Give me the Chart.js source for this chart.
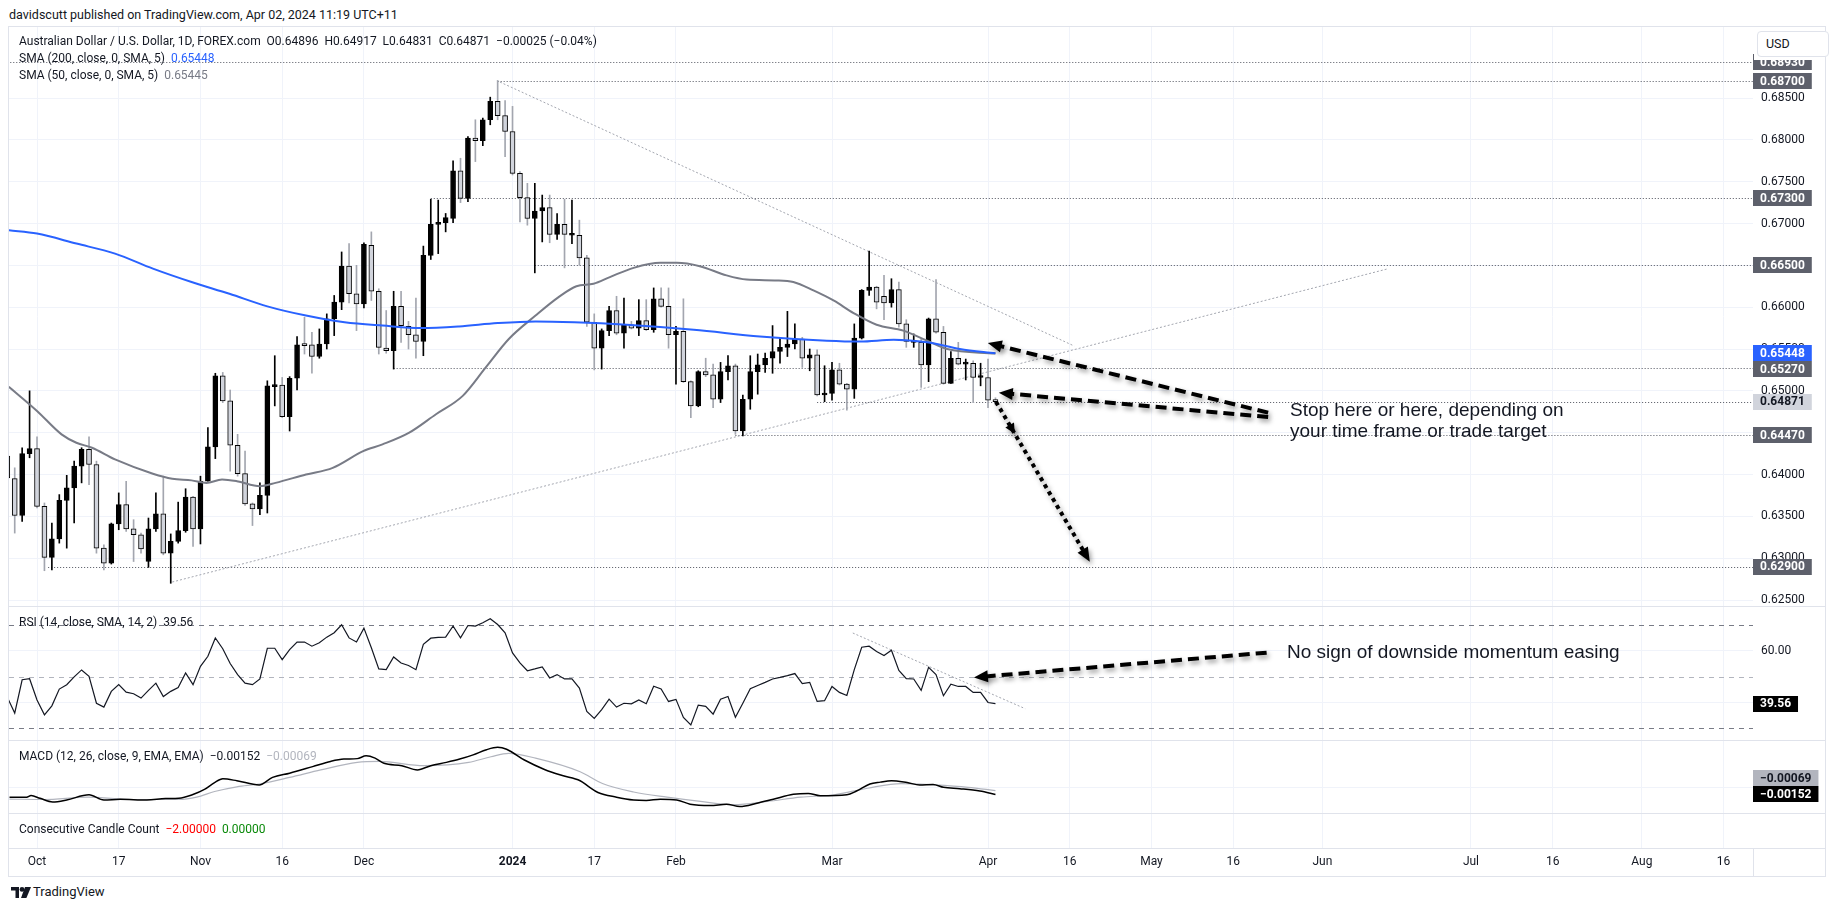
<!DOCTYPE html>
<html>
<head>
<meta charset="utf-8">
<title>AUD/USD daily</title>
<script src="https://cdn.jsdelivr.net/npm/chart.js@4.4.1/dist/chart.umd.min.js"></script>
<style>
body { margin: 0; background: #fff; width: 1835px; height: 911px; position: relative; overflow: hidden; font-family: Roboto, sans-serif; color: #131722; }
.pane { position: absolute; left: 9px; }
.pane canvas { display: block; }
.txt { position: absolute; white-space: pre; font-size: 12px; line-height: 16px; }
.sep { position: absolute; left: 9px; width: 1816px; height: 1px; background: #e0e3eb; }
.note { position: absolute; white-space: pre; font-family: "Liberation Sans", Arial, sans-serif; font-size: 19px; line-height: 21px; color: #131722; }
</style>
</head>
<body>

<div class="txt" style="left:9px; top:7px; font-size:12.5px;">davidscutt published on TradingView.com, Apr 02, 2024 11:19 UTC+11</div>
<div style="position:absolute; left:8px; top:26px; width:1816px; height:849px; border:1px solid #e0e3eb;"></div>

<div class="pane" style="top:27px;"><canvas id="pricePane" width="1816" height="579"></canvas></div>
<div class="pane" style="top:607px;"><canvas id="rsiPane" width="1816" height="133"></canvas></div>
<div class="pane" style="top:741px;"><canvas id="macdPane" width="1816" height="72"></canvas></div>
<div class="pane" style="top:814px;"><canvas id="countPane" width="1816" height="62"></canvas></div>

<div class="sep" style="top:606px;"></div>
<div class="sep" style="top:740px;"></div>
<div class="sep" style="top:813px;"></div>
<div class="sep" style="top:848px;"></div>
<div style="position:absolute; left:1753px; top:848px; width:1px; height:28px; background:#e0e3eb;"></div>

<div style="position:absolute; left:1754px; top:27px; width:71px; height:33px; background:#fff;"></div>
<div style="position:absolute; left:1757px; top:31px; width:62px; height:24px; border:1px solid #e0e3eb; border-radius:4px; background:#fff; font-size:12.5px; line-height:24px; padding-left:8px; box-sizing:content-box;">USD</div>

<div class="txt" style="left:19px; top:33px;">Australian Dollar / U.S. Dollar, 1D, FOREX.com  O0.64896  H0.64917  L0.64831  C0.64871  −0.00025 (−0.04%)</div>
<div class="txt" style="left:19px; top:50px;">SMA (200, close, 0, SMA, 5)  <span style="color:#2962ff">0.65448</span></div>
<div class="txt" style="left:19px; top:67px;">SMA (50, close, 0, SMA, 5)  <span style="color:#787b86">0.65445</span></div>
<div class="txt" style="left:19px; top:614px;">RSI (14, close, SMA, 14, 2)  39.56</div>
<div class="txt" style="left:19px; top:748px;">MACD (12, 26, close, 9, EMA, EMA)  −0.00152  <span style="color:#b2b5be">−0.00069</span></div>
<div class="txt" style="left:19px; top:821px;">Consecutive Candle Count  <span style="color:#f00">−2.00000</span>  <span style="color:#0a8a0a">0.00000</span></div>

<div class="note" style="left:1290px; top:399px;">Stop here or here, depending on
your time frame or trade target</div>
<div class="note" style="left:1287px; top:641px;">No sign of downside momentum easing</div>

<svg style="position:absolute; left:11px; top:887px;" width="20" height="11" viewBox="0 0 20 11">
  <path d="M0 0h8v11H4.5V3.5H0z" fill="#131722"/>
  <circle cx="11" cy="2.4" r="2.4" fill="#131722"/>
  <path d="M14 0h6l-4.6 11H10z" fill="#131722"/>
</svg>
<div class="txt" style="left:33px; top:884px; font-size:13px;">TradingView</div>

<script>
// bar index 0 = Oct 2 2023, trading days only (Dec 25 / Jan 1 skipped)
var firstIdx = -4;
var opens = [0.6422, 0.6395, 0.6351, 0.6425, 0.6431, 0.6362, 0.6301, 0.6323, 0.6369, 0.6384, 0.6410, 0.6430, 0.6412, 0.6312,
    0.6294, 0.6341, 0.6364, 0.6335, 0.6328, 0.6296, 0.6335, 0.6353, 0.6306, 0.6320, 0.6333, 0.6373, 0.6335, 0.6392,
    0.6433, 0.6518, 0.6488, 0.6435, 0.6401, 0.6365, 0.6359, 0.6375, 0.6505, 0.6507, 0.6469, 0.6515, 0.6555, 0.6555,
    0.6541, 0.6556, 0.6586, 0.6606, 0.6649, 0.6616, 0.6604, 0.6674, 0.6619, 0.6551, 0.6548, 0.6601, 0.6577, 0.6567,
    0.6559, 0.6662, 0.6699, 0.6701, 0.6706, 0.6763, 0.6730, 0.6802, 0.6799, 0.6824, 0.6846, 0.6829, 0.6810, 0.6760,
    0.6731, 0.6706, 0.6715, 0.6719, 0.6687, 0.6699, 0.6686, 0.6686, 0.6659, 0.6582, 0.6551, 0.6572, 0.6596, 0.6569,
    0.6579, 0.6575, 0.6584, 0.6573, 0.6610, 0.6601, 0.6567, 0.6571, 0.6511, 0.6482, 0.6523, 0.6519, 0.6490, 0.6523,
    0.6530, 0.6452, 0.6490, 0.6523, 0.6531, 0.6539, 0.6547, 0.6552, 0.6556, 0.6562, 0.6539, 0.6543, 0.6495, 0.6497,
    0.6525, 0.6508, 0.6502, 0.6563, 0.6620, 0.6624, 0.6613, 0.6605, 0.6621, 0.6580, 0.6558, 0.6558, 0.6531, 0.6586,
    0.6570, 0.6509, 0.6539, 0.6532, 0.6533, 0.6516, 0.6516, 0.64896];
var highs = [0.6430, 0.6408, 0.6432, 0.6500, 0.6445, 0.6366, 0.6342, 0.6376, 0.6399, 0.6416, 0.6432, 0.6445, 0.6416, 0.6316,
    0.6342, 0.6378, 0.6392, 0.6346, 0.6330, 0.6348, 0.6378, 0.6398, 0.6329, 0.6367, 0.6383, 0.6374, 0.6398, 0.6456,
    0.6521, 0.6522, 0.6501, 0.6448, 0.6428, 0.6366, 0.6390, 0.6512, 0.6542, 0.6516, 0.6517, 0.6565, 0.6588, 0.6570,
    0.6574, 0.6592, 0.6614, 0.6666, 0.6676, 0.6650, 0.6677, 0.6690, 0.6622, 0.6596, 0.6619, 0.6619, 0.6583, 0.6611,
    0.6673, 0.6729, 0.6728, 0.6712, 0.6775, 0.6778, 0.6804, 0.6824, 0.6826, 0.6851, 0.6871, 0.6847, 0.6840, 0.6762,
    0.6748, 0.6748, 0.6734, 0.6734, 0.6712, 0.6729, 0.6728, 0.6704, 0.6662, 0.6592, 0.6574, 0.6601, 0.6613, 0.6611,
    0.6583, 0.6609, 0.6609, 0.6623, 0.6623, 0.6623, 0.6577, 0.6610, 0.6512, 0.6524, 0.6539, 0.6532, 0.6534, 0.6542,
    0.6532, 0.6495, 0.6542, 0.6544, 0.6545, 0.6578, 0.6564, 0.6595, 0.6580, 0.6564, 0.6550, 0.6549, 0.6530, 0.6534,
    0.6533, 0.6509, 0.6580, 0.6621, 0.6667, 0.6625, 0.6638, 0.6634, 0.6630, 0.6585, 0.6568, 0.6562, 0.6587, 0.6633,
    0.6577, 0.6547, 0.6558, 0.6538, 0.6536, 0.6533, 0.6538, 0.64917];
var lows = [0.6390, 0.6330, 0.6344, 0.6420, 0.6360, 0.6285, 0.6286, 0.6318, 0.6312, 0.6342, 0.6390, 0.6388, 0.6306, 0.6286,
    0.6293, 0.6334, 0.6332, 0.6296, 0.6306, 0.6289, 0.6332, 0.6304, 0.6270, 0.6318, 0.6331, 0.6314, 0.6317, 0.6392,
    0.6419, 0.6486, 0.6404, 0.6398, 0.6363, 0.6339, 0.6352, 0.6354, 0.6482, 0.6468, 0.6452, 0.6501, 0.6544, 0.6521,
    0.6539, 0.6550, 0.6566, 0.6597, 0.6605, 0.6572, 0.6599, 0.6608, 0.6544, 0.6545, 0.6526, 0.6558, 0.6550, 0.6539,
    0.6542, 0.6657, 0.6664, 0.6690, 0.6701, 0.6725, 0.6726, 0.6774, 0.6793, 0.6818, 0.6824, 0.6780, 0.6758, 0.6702,
    0.6698, 0.6641, 0.6678, 0.6677, 0.6681, 0.6647, 0.6676, 0.6650, 0.6577, 0.6525, 0.6526, 0.6566, 0.6567, 0.6551,
    0.6574, 0.6566, 0.6572, 0.6570, 0.6600, 0.6551, 0.6508, 0.6510, 0.6468, 0.6481, 0.6517, 0.6480, 0.6486, 0.6513,
    0.6448, 0.6446, 0.6478, 0.6496, 0.6522, 0.6521, 0.6533, 0.6541, 0.6550, 0.6528, 0.6524, 0.6494, 0.6487, 0.6489,
    0.6507, 0.6477, 0.6491, 0.6562, 0.6614, 0.6598, 0.6585, 0.6600, 0.6576, 0.6552, 0.6552, 0.6504, 0.6511, 0.6569,
    0.6508, 0.6509, 0.6531, 0.6513, 0.6486, 0.6506, 0.6480, 0.64831];
var closes = [0.6396, 0.6351, 0.6425, 0.6431, 0.6362, 0.6301, 0.6323, 0.6369, 0.6384, 0.6410, 0.6430, 0.6412, 0.6312, 0.6294,
    0.6341, 0.6364, 0.6335, 0.6328, 0.6311, 0.6335, 0.6353, 0.6306, 0.6320, 0.6333, 0.6373, 0.6335, 0.6392, 0.6433,
    0.6518, 0.6488, 0.6435, 0.6401, 0.6365, 0.6359, 0.6375, 0.6506, 0.6507, 0.6469, 0.6515, 0.6555, 0.6554, 0.6541,
    0.6556, 0.6586, 0.6606, 0.6649, 0.6616, 0.6604, 0.6675, 0.6619, 0.6552, 0.6548, 0.6601, 0.6578, 0.6567, 0.6559,
    0.6662, 0.6699, 0.6701, 0.6707, 0.6763, 0.6730, 0.6802, 0.6799, 0.6824, 0.6846, 0.6829, 0.6810, 0.6760, 0.6731,
    0.6706, 0.6715, 0.6719, 0.6687, 0.6699, 0.6687, 0.6688, 0.6659, 0.6582, 0.6551, 0.6572, 0.6596, 0.6569, 0.6579,
    0.6575, 0.6584, 0.6573, 0.6610, 0.6601, 0.6567, 0.6571, 0.6511, 0.6482, 0.6523, 0.6519, 0.6490, 0.6523, 0.6530,
    0.6452, 0.6490, 0.6523, 0.6531, 0.6539, 0.6547, 0.6552, 0.6556, 0.6562, 0.6539, 0.6543, 0.6495, 0.6497, 0.6525,
    0.6508, 0.6502, 0.6563, 0.6620, 0.6624, 0.6606, 0.6605, 0.6621, 0.6580, 0.6559, 0.6560, 0.6531, 0.6586, 0.6570,
    0.6509, 0.6539, 0.6532, 0.6533, 0.6516, 0.6517, 0.6489, 0.64871];

// moving averages at these bar positions
var sma200Idx = [-3.8, 0, 5.3, 10.5, 15.6, 20.8, 25.9, 31, 36.2, 41.4, 46.5, 51.7, 56.8, 62, 67.1, 72.3, 79.4, 88.4, 97.3, 106.3, 110.8, 115.3, 119.8, 124.2, 129];
var sma200Val = [0.6692, 0.6688, 0.6676, 0.6664, 0.6646, 0.6630, 0.6616, 0.6601, 0.6590, 0.6582, 0.6578, 0.6575, 0.6577, 0.6581, 0.6583, 0.6582, 0.6579, 0.6573, 0.6565, 0.6560, 0.6559, 0.6561, 0.6558, 0.6550, 0.65448];
var sma50Idx = [-3.8, 0, 3.3, 5.3, 7.4, 10.5, 15.6, 18.2, 20.8, 22.8, 24.9, 26.9, 30, 32.1, 36.2, 39.8, 43.9, 46.5, 50.1, 53.7, 57.3, 60.4, 63.5, 67.1, 70.2, 72.6, 74.9, 77.1, 80.3, 83.9, 86.1, 89.2, 92.8, 95.5, 99.6, 101.8, 104.5, 107.2, 109.9, 113, 116.6, 119.8, 122.5, 129];
var sma50Val = [0.6505, 0.6476, 0.6448, 0.6438, 0.6432, 0.6418, 0.6401, 0.6395, 0.6393, 0.6390, 0.6394, 0.6392, 0.6386, 0.6390, 0.6400, 0.6408, 0.6428, 0.6436, 0.6450, 0.6472, 0.6494, 0.6528, 0.6562, 0.6590, 0.6612, 0.6625, 0.6628, 0.6636, 0.6647, 0.6653, 0.6653, 0.6649, 0.6638, 0.6633, 0.6632, 0.6630, 0.6620, 0.6608, 0.6593, 0.6579, 0.6572, 0.6560, 0.6550, 0.65445];

// RSI per bar from firstIdx
var rsiVal = [42, 35.9, 48.8, 49.2, 41.0, 35.2, 38.7, 45.2, 46.9, 49.9, 52.6, 50.1, 39.7, 38.2, 44.3, 46.9, 44.0, 43.4, 41.7,
    44.7, 47.5, 42.3, 44.3, 45.8, 51.4, 46.9, 54.0, 57.9, 65.0, 60.8, 55.1, 50.8, 47.5, 46.9, 49.1, 61.0, 61.0, 56.6, 60.5,
    63.4, 63.4, 61.8, 63.1, 65.3, 67.0, 70.1, 65.0, 63.4, 68.8, 61.2, 53.0, 52.7, 57.6, 55.3, 54.3, 52.7, 62.5, 64.9, 65.2,
    65.3, 69.6, 65.0, 69.8, 69.6, 70.9, 72.4, 70.2, 67.0, 59.2, 55.3, 52.3, 53.0, 53.8, 49.5, 50.8, 49.1, 49.1, 45.6, 36.5,
    33.8, 37.2, 41.3, 38.2, 39.7, 39.5, 41.0, 39.5, 46.3, 45.2, 40.4, 41.2, 34.2, 31.3, 39.0, 38.5, 35.5, 41.3, 42.3, 34.3,
    39.7, 45.3, 46.6, 47.8, 49.1, 49.7, 50.4, 51.2, 47.3, 47.8, 40.4, 40.7, 46.2, 43.9, 42.7, 52.7, 61.4, 61.8, 59.7, 58.2,
    60.2, 52.4, 49.2, 49.1, 44.7, 53.6, 50.8, 42.6, 47.1, 46.2, 46.2, 43.9, 43.9, 40.0, 39.56];

var macdIdx = [-3.7, -1.4, -0.8, 0.4, 2.1, 4, 7, 9, 11.2, 14.8, 17.3, 19.1, 20.9, 22.6, 23.9, 25, 26.9, 29.9, 31.7, 34, 37.1, 39.5, 41.3, 43.1, 44.3, 45.5, 46.7, 49.1, 51.2, 53, 55.1, 56.9, 58.7, 60.5, 62, 63.2, 65.6, 68.3, 70.7, 73.1, 74.3, 75.5, 78, 80.3, 82, 83.9, 86.1, 87.9, 90.6, 92.8, 94.6, 96.9, 99.1, 101.8, 103.8, 105.4, 109, 110.3, 112.1, 113.5, 115, 117.1, 118.8, 120.6, 122, 124.2, 126.9, 129];
var macdVal = [-0.00213, -0.00213, -0.00177, -0.00234, -0.00312, -0.0027, -0.0016, -0.0027, -0.00255, -0.0027, -0.0024, -0.00234, -0.0016, -0.0004, 0.001, 0.0018, 0.0014, 0.0005, 0.0021, 0.003, 0.0044, 0.0055, 0.006, 0.0061, 0.0067, 0.0062, 0.0051, 0.0046, 0.0037, 0.0046, 0.0053, 0.006, 0.0069, 0.008, 0.0085, 0.0081, 0.0058, 0.0038, 0.0025, 0.0014, 0.0001, -0.0011, -0.0021, -0.0027, -0.0028, -0.00255, -0.0027, -0.0036, -0.0039, -0.0036, -0.0041, -0.0034, -0.00255, -0.0015, -0.0013, -0.0018, -0.0016, -0.0008, 0.0007, 0.0011, 0.0014, 0.001, 0.0005, 0.0006, 0.0000, -0.0003, -0.0008, -0.00152];
var signalIdx = [-3.7, 0.9, 6.9, 13, 19.1, 21.5, 23.9, 26.9, 29.9, 34, 38.2, 43.1, 46.1, 52.1, 58.1, 61.1, 63.5, 67.1, 73.1, 76.1, 80.3, 84.8, 89.3, 93.8, 98.3, 102.8, 107.3, 111.8, 116.3, 120.8, 125.3, 129];
var signalVal = [-0.0025, -0.0026, -0.0021, -0.0026, -0.0026, -0.0021, -0.0009, 0.0001, 0.0007, 0.0021, 0.0037, 0.0053, 0.0055, 0.0046, 0.0053, 0.0065, 0.0072, 0.0062, 0.0033, 0.0008, -0.001, -0.0021, -0.003, -0.0037, -0.003, -0.0021, -0.0016, -0.0002, 0.0008, 0.0005, 0.0000, -0.00069];

// axis ticks
var tickIdx = [0, 11, 22, 33, 44, 64, 75, 86, 107, 128, 139, 150, 161, 173, 193, 204, 216, 227];
var tickLabels = ['Oct', '17', 'Nov', '16', 'Dec', '2024', '17', 'Feb', 'Mar', 'Apr', '16', 'May', '16', 'Jun', 'Jul', '16', 'Aug', '16'];
var priceTicks = [0.625, 0.63, 0.635, 0.64, 0.645, 0.65, 0.655, 0.66, 0.665, 0.67, 0.675, 0.68, 0.685];
var rsiTicks = [40, 60];
var macdTicks = [0];

// drawings on the price pane
var levelVals = [0.6893, 0.687, 0.673, 0.665, 0.6527, 0.6487, 0.6447, 0.629];
var levelFrom = [-4, 62, 53, 67, 48, 105, 94, 1.5];
var trendFrom = [[62.3, 0.68691], [18.2, 0.62715]];
var trendTo = [[139.6, 0.65536], [181.7, 0.66456]];
var arrowFrom = [[165.7, 0.64739], [165.7, 0.64687], [129.07, 0.6487]];
var arrowTo = [[127.97, 0.65572], [129.45, 0.64978], [141.7, 0.62958]];
var rsiLevels = [70, 50, 30];
var rsiTrend = [[109.8, 66.9], [133, 37.6]];
var rsiArrow = [[165.5, 59.3], [126.1, 49.7]];

// labels on the right scale
var priceBoxVals = [0.65448, 0.6893, 0.687, 0.673, 0.665, 0.6527, 0.64871, 0.6447, 0.629];
var priceBoxBg = ['#2962ff', '#5d606b', '#5d606b', '#5d606b', '#5d606b', '#5d606b', '#d1d4dc', '#5d606b', '#5d606b'];
var priceBoxFg = ['#fff', '#fff', '#fff', '#fff', '#fff', '#fff', '#131722', '#fff', '#fff'];

var X_MIN = -3.77, X_MAX = 230.96;
var GRID = '#f0f3fa';

Chart.defaults.animation = false;
Chart.defaults.font.family = 'Roboto, sans-serif';
Chart.defaults.font.size = 12;
Chart.defaults.color = '#131722';
Chart.defaults.plugins.legend.display = false;
Chart.defaults.plugins.tooltip.enabled = false;

function pts(xs, ys) {
    return xs.map(function (x, k) { return {x: x, y: ys[k]}; });
}

// no label overflow padding: the panes must fill their canvases exactly
function noScalePad(s) {
    s.paddingTop = 0;
    s.paddingBottom = 0;
    s.paddingLeft = 0;
    s.paddingRight = 0;
}

function xAxis(withLabels) {
    return {
        type: 'linear',
        min: X_MIN,
        max: X_MAX,
        offset: false,
        bounds: 'data',
        afterBuildTicks: function (s) { s.ticks = tickIdx.map(function (v) { return {value: v}; }); },
        afterFit: function (s) { s.height = withLabels ? 27 : 0; noScalePad(s); },
        grid: {color: GRID, drawTicks: false, offset: false},
        border: {display: false},
        ticks: {
            display: withLabels,
            autoSkip: false,
            maxRotation: 0,
            padding: 6,
            callback: function (v, i) { return tickLabels[i]; },
            font: function (c) { return {size: 12, weight: tickLabels[c.index] === '2024' ? 'bold' : 'normal'}; }
        }
    };
}

function yAxis(min, max, list, digits) {
    return {
        position: 'right',
        min: min,
        max: max,
        bounds: 'data',
        afterBuildTicks: function (s) { s.ticks = list.map(function (v) { return {value: v}; }); },
        afterFit: function (s) { s.width = 72; noScalePad(s); },
        grid: {color: GRID, drawTicks: false},
        border: {display: false},
        ticks: {padding: 8, callback: function (v) { return v.toFixed(digits); }}
    };
}

function segment(ctx, x1, y1, x2, y2, color, dash, width) {
    ctx.save();
    ctx.strokeStyle = color;
    ctx.lineWidth = width;
    ctx.setLineDash(dash);
    ctx.beginPath();
    ctx.moveTo(x1, y1);
    ctx.lineTo(x2, y2);
    ctx.stroke();
    ctx.restore();
}

function arrowHead(ctx, x, y, ang, len, wid) {
    ctx.beginPath();
    ctx.moveTo(x, y);
    ctx.lineTo(x - len * Math.cos(ang) - wid / 2 * Math.sin(ang), y - len * Math.sin(ang) + wid / 2 * Math.cos(ang));
    ctx.lineTo(x - len * Math.cos(ang) + wid / 2 * Math.sin(ang), y - len * Math.sin(ang) - wid / 2 * Math.cos(ang));
    ctx.closePath();
    ctx.fill();
}

function bigArrow(ctx, x1, y1, x2, y2, dash, midHead) {
    var ang = Math.atan2(y2 - y1, x2 - x1);
    ctx.save();
    ctx.shadowColor = 'rgba(0,0,0,0.4)';
    ctx.shadowBlur = 5;
    ctx.shadowOffsetX = 2;
    ctx.shadowOffsetY = 3;
    ctx.strokeStyle = '#000';
    ctx.fillStyle = '#000';
    ctx.lineWidth = 4;
    ctx.setLineDash(dash);
    ctx.beginPath();
    ctx.moveTo(x1, y1);
    ctx.lineTo(x2 - 12 * Math.cos(ang), y2 - 12 * Math.sin(ang));
    ctx.stroke();
    ctx.setLineDash([]);
    arrowHead(ctx, x2, y2, ang, 14, 12);
    if (midHead) {
        arrowHead(ctx, x1 + (x2 - x1) * 0.2, y1 + (y2 - y1) * 0.2, ang, 10, 10);
    }
    ctx.restore();
}

// value labels on the right scale, later ones move off earlier ones
function scaleBoxes(chart, vals, bgs, fgs, digits) {
    var ctx = chart.ctx, ys = chart.scales.y, left = chart.chartArea.right;
    var placed = [];
    ctx.save();
    ctx.font = 'bold 12px Roboto, sans-serif';
    ctx.textBaseline = 'middle';
    for (var k = 0; k < vals.length; k++) {
        var y = ys.getPixelForValue(vals[k]);
        for (var n = 0; n < placed.length; n++) {
            if (Math.abs(y - placed[n]) < 16) {
                y = y < placed[n] ? placed[n] - 16 : placed[n] + 16;
            }
        }
        placed.push(y);
        var label = vals[k].toFixed(digits).replace('-', '\u2212');
        var w = ctx.measureText(label).width + 14;
        ctx.fillStyle = bgs[k];
        ctx.fillRect(left, Math.round(y - 8), w, 16);
        ctx.fillStyle = fgs[k];
        ctx.fillText(label, left + 7, y + 0.5);
    }
    ctx.restore();
}

function clipArea(chart) {
    var a = chart.chartArea;
    chart.ctx.save();
    chart.ctx.beginPath();
    chart.ctx.rect(a.left, a.top, a.right - a.left, a.bottom - a.top);
    chart.ctx.clip();
}

var priceMarks = {
    id: 'priceMarks',
    beforeDatasetsDraw: function (chart) {
        var xs = chart.scales.x, ys = chart.scales.y, a = chart.chartArea;
        clipArea(chart);
        for (var k = 0; k < levelVals.length; k++) {
            var y = Math.round(ys.getPixelForValue(levelVals[k])) + 0.5;
            segment(chart.ctx, xs.getPixelForValue(levelFrom[k]), y, a.right, y, '#50535e', [1, 2], 1);
        }
        for (var t = 0; t < trendFrom.length; t++) {
            segment(chart.ctx, xs.getPixelForValue(trendFrom[t][0]), ys.getPixelForValue(trendFrom[t][1]),
                xs.getPixelForValue(trendTo[t][0]), ys.getPixelForValue(trendTo[t][1]), '#a3a6af', [2, 2], 1);
        }
        chart.ctx.restore();
    },
    afterDatasetsDraw: function (chart) {
        var xs = chart.scales.x, ys = chart.scales.y;
        for (var k = 0; k < arrowFrom.length; k++) {
            bigArrow(chart.ctx, xs.getPixelForValue(arrowFrom[k][0]), ys.getPixelForValue(arrowFrom[k][1]),
                xs.getPixelForValue(arrowTo[k][0]), ys.getPixelForValue(arrowTo[k][1]),
                k < 2 ? [11, 6] : [4, 4], k === 2);
        }
    },
    afterDraw: function (chart) {
        scaleBoxes(chart, priceBoxVals, priceBoxBg, priceBoxFg, 5);
    }
};

var rsiMarks = {
    id: 'rsiMarks',
    beforeDatasetsDraw: function (chart) {
        var xs = chart.scales.x, ys = chart.scales.y, a = chart.chartArea;
        clipArea(chart);
        for (var k = 0; k < rsiLevels.length; k++) {
            var y = Math.round(ys.getPixelForValue(rsiLevels[k])) + 0.5;
            segment(chart.ctx, a.left, y, a.right, y, k === 1 ? '#b2b5be' : '#787b86', [5, 5], 1);
        }
        segment(chart.ctx, xs.getPixelForValue(rsiTrend[0][0]), ys.getPixelForValue(rsiTrend[0][1]),
            xs.getPixelForValue(rsiTrend[1][0]), ys.getPixelForValue(rsiTrend[1][1]), '#a3a6af', [2, 2], 1);
        chart.ctx.restore();
    },
    afterDatasetsDraw: function (chart) {
        var xs = chart.scales.x, ys = chart.scales.y;
        bigArrow(chart.ctx, xs.getPixelForValue(rsiArrow[0][0]), ys.getPixelForValue(rsiArrow[0][1]),
            xs.getPixelForValue(rsiArrow[1][0]), ys.getPixelForValue(rsiArrow[1][1]), [11, 6], false);
    },
    afterDraw: function (chart) {
        scaleBoxes(chart, [39.56], ['#000'], ['#fff'], 2);
    }
};

var macdMarks = {
    id: 'macdMarks',
    afterDraw: function (chart) {
        scaleBoxes(chart, [-0.00152, -0.00069], ['#000', '#b2b5be'], ['#fff', '#131722'], 5);
    }
};

// candles: body and wick as floating bars
var bodies = [], wicks = [], bodyFill = [], wickColor = [];
for (var k = 0; k < opens.length; k++) {
    var up = closes[k] >= opens[k];
    bodies.push({x: firstIdx + k, y: [opens[k], closes[k]]});
    wicks.push({x: firstIdx + k, y: [lows[k], highs[k]]});
    bodyFill.push(up ? '#000000' : '#d1d4dc');
    wickColor.push(up ? '#000000' : '#a3a6af');
}

var noPad = {padding: 0, autoPadding: false};

new Chart(document.getElementById('pricePane'), {
    type: 'bar',
    data: {
        datasets: [{
            type: 'line',
            data: pts(sma200Idx, sma200Val),
            borderColor: '#2962ff',
            borderWidth: 2,
            pointRadius: 0,
            cubicInterpolationMode: 'monotone',
            order: 1
        }, {
            type: 'line',
            data: pts(sma50Idx, sma50Val),
            borderColor: '#787b86',
            borderWidth: 2,
            pointRadius: 0,
            cubicInterpolationMode: 'monotone',
            order: 2
        }, {
            data: bodies,
            backgroundColor: bodyFill,
            borderColor: '#000000',
            borderWidth: 1,
            borderSkipped: false,
            barThickness: 5,
            minBarLength: 2,
            grouped: false,
            order: 3
        }, {
            data: wicks,
            backgroundColor: wickColor,
            barThickness: 1,
            grouped: false,
            order: 4
        }]
    },
    options: {
        responsive: false,
        layout: noPad,
        scales: {
            x: xAxis(false),
            y: yAxis(0.624285, 0.693486, priceTicks, 5)
        }
    },
    plugins: [priceMarks]
});

new Chart(document.getElementById('rsiPane'), {
    type: 'line',
    data: {
        datasets: [{
            data: pts(rsiVal.map(function (v, k) { return firstIdx + k; }), rsiVal),
            borderColor: '#131722',
            borderWidth: 1.2,
            pointRadius: 0
        }]
    },
    options: {
        responsive: false,
        layout: noPad,
        scales: {
            x: xAxis(false),
            y: yAxis(25.47, 76.97, rsiTicks, 2)
        }
    },
    plugins: [rsiMarks]
});

new Chart(document.getElementById('macdPane'), {
    type: 'line',
    data: {
        datasets: [{
            data: pts(macdIdx, macdVal),
            borderColor: '#000000',
            borderWidth: 1.5,
            pointRadius: 0,
            cubicInterpolationMode: 'monotone'
        }, {
            data: pts(signalIdx, signalVal),
            borderColor: '#b2b5be',
            borderWidth: 1.2,
            pointRadius: 0,
            cubicInterpolationMode: 'monotone'
        }]
    },
    options: {
        responsive: false,
        layout: noPad,
        scales: {
            x: xAxis(false),
            y: yAxis(-0.00547, 0.00985, macdTicks, 5)
        }
    },
    plugins: [macdMarks]
});

// empty counter pane, carries the time axis
new Chart(document.getElementById('countPane'), {
    type: 'line',
    data: {datasets: [{data: []}]},
    options: {
        responsive: false,
        layout: noPad,
        scales: {
            x: xAxis(true),
            y: {
                position: 'right',
                min: 0,
                max: 1,
                afterFit: function (s) { s.width = 72; noScalePad(s); },
                grid: {display: false},
                border: {display: false},
                ticks: {display: false}
            }
        }
    }
});
</script>
</body>
</html>
